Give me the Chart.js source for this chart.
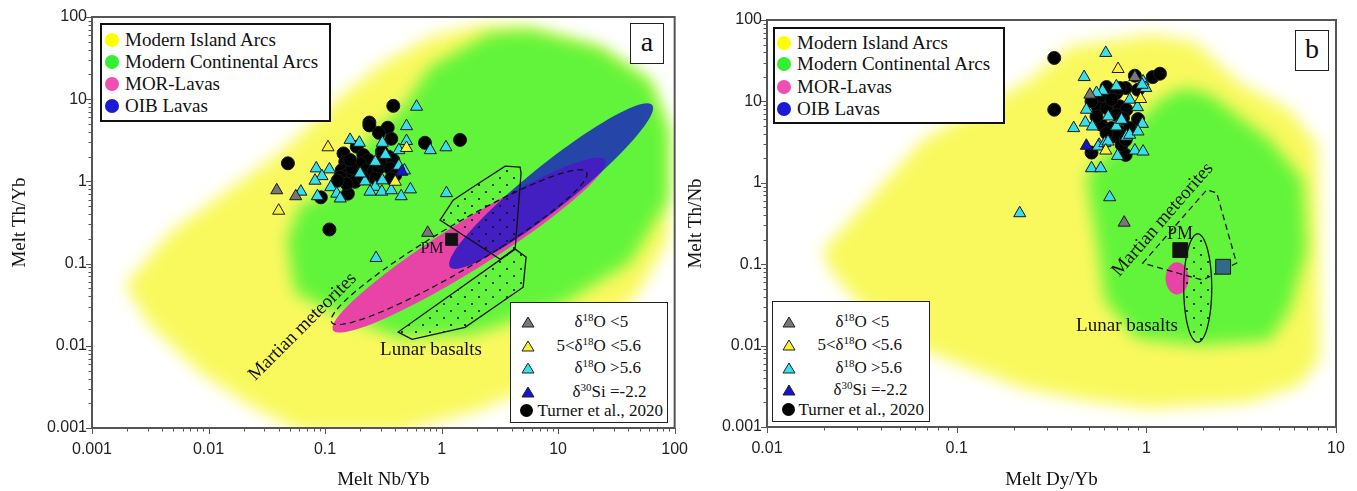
<!DOCTYPE html>
<html>
<head>
<meta charset="utf-8">
<script src="https://cdn.jsdelivr.net/npm/chart.js@4"></script>
<style>
  body { margin: 0; background: #fff; width: 1357px; height: 491px; position: relative; overflow: hidden; }
  canvas { position: absolute; top: 0; }
  .box { position: absolute; background: #fff; box-sizing: border-box; font-family: "Liberation Serif", "Times New Roman", serif; color: #111; }
  .lg1 { border: 2px solid #111; font-size: 19px; }
  .lg2 { border: 1.5px solid #222; font-size: 17px; }
  .it { position: absolute; white-space: nowrap; }
  .lg1 .it { height: 22px; line-height: 22px; }
  .lg2 .it { height: 20px; line-height: 20px; }
  .dot { position: absolute; border-radius: 50%; }
  .sp { font-size: 11px; position: relative; top: -6px; }
  .tag { border: 1.5px solid #222; font-size: 28px; text-align: center; line-height: 36px; }
  .ann { position: absolute; white-space: nowrap; font-family: "Liberation Serif", "Times New Roman", serif; font-size: 19px; color: #111; transform: translate(-50%, -50%); }
</style>
</head>
<body>
<canvas id="chartA" width="700" height="491" style="left:0"></canvas>
<canvas id="chartB" width="677" height="491" style="left:680px"></canvas>

<!-- panel a legends -->
<div class="box lg1" style="left:100px;top:23px;width:231px;height:99px">
  <div class="it" style="top:4px;left:0"><span class="dot" style="left:3px;top:4px;width:14px;height:14px;background:#ffff00"></span><span style="position:absolute;left:23px">Modern Island Arcs</span></div>
  <div class="it" style="top:26px;left:0"><span class="dot" style="left:3px;top:4px;width:14px;height:14px;background:#33ee33"></span><span style="position:absolute;left:23px">Modern Continental Arcs</span></div>
  <div class="it" style="top:48px;left:0"><span class="dot" style="left:3px;top:4px;width:14px;height:14px;background:#ee4fb0"></span><span style="position:absolute;left:23px">MOR-Lavas</span></div>
  <div class="it" style="top:70px;left:0"><span class="dot" style="left:3px;top:4px;width:14px;height:14px;background:#1a1ad6"></span><span style="position:absolute;left:23px">OIB Lavas</span></div>
</div>
<div class="box tag" style="left:630px;top:23px;width:34px;height:41px">a</div>
<div class="box lg2" style="left:510px;top:302px;width:158px;height:121px">
  <svg style="position:absolute;left:9.5px;top:12.5px" width="14" height="12"><polygon points="7,1 13,11 1,11" fill="#777" stroke="#222"/></svg>
  <div class="it" style="left:63.5px;top:8.5px">&delta;<span class="sp">18</span>O &lt;5</div>
  <svg style="position:absolute;left:9.5px;top:36.5px" width="14" height="12"><polygon points="7,1 13,11 1,11" fill="#fbf235" stroke="#222"/></svg>
  <div class="it" style="left:45.5px;top:32.5px">5&lt;&delta;<span class="sp">18</span>O &lt;5.6</div>
  <svg style="position:absolute;left:9.5px;top:58.5px" width="14" height="12"><polygon points="7,1 13,11 1,11" fill="#35e0ee" stroke="#222"/></svg>
  <div class="it" style="left:63.5px;top:54.5px">&delta;<span class="sp">18</span>O &gt;5.6</div>
  <svg style="position:absolute;left:9.5px;top:82.5px" width="14" height="12"><polygon points="7,1 13,11 1,11" fill="#1515d0" stroke="#222"/></svg>
  <div class="it" style="left:61.5px;top:78.5px">&delta;<span class="sp">30</span>Si =-2.2</div>
  <span class="dot" style="left:9px;top:101px;width:13px;height:13px;background:#000"></span>
  <div class="it" style="left:26.5px;top:97.5px">Turner et al., 2020</div>
</div>

<!-- panel b legends -->
<div class="box lg1" style="left:773px;top:27px;width:232px;height:97px">
  <div class="it" style="top:3px;left:0"><span class="dot" style="left:2px;top:4px;width:14px;height:14px;background:#ffff00"></span><span style="position:absolute;left:22px">Modern Island Arcs</span></div>
  <div class="it" style="top:24px;left:0"><span class="dot" style="left:2px;top:4px;width:14px;height:14px;background:#33ee33"></span><span style="position:absolute;left:22px">Modern Continental Arcs</span></div>
  <div class="it" style="top:47px;left:0"><span class="dot" style="left:2px;top:4px;width:14px;height:14px;background:#ee4fb0"></span><span style="position:absolute;left:22px">MOR-Lavas</span></div>
  <div class="it" style="top:69px;left:0"><span class="dot" style="left:2px;top:4px;width:14px;height:14px;background:#1a1ad6"></span><span style="position:absolute;left:22px">OIB Lavas</span></div>
</div>
<div class="box tag" style="left:1295px;top:30px;width:34px;height:41px">b</div>
<div class="box lg2" style="left:772px;top:301px;width:158px;height:121px">
  <svg style="position:absolute;left:8.5px;top:13.5px" width="14" height="12"><polygon points="7,1 13,11 1,11" fill="#777" stroke="#222"/></svg>
  <div class="it" style="left:62.5px;top:9.5px">&delta;<span class="sp">18</span>O &lt;5</div>
  <svg style="position:absolute;left:8.5px;top:36.5px" width="14" height="12"><polygon points="7,1 13,11 1,11" fill="#fbf235" stroke="#222"/></svg>
  <div class="it" style="left:44.5px;top:32.5px">5&lt;&delta;<span class="sp">18</span>O &lt;5.6</div>
  <svg style="position:absolute;left:8.5px;top:59.5px" width="14" height="12"><polygon points="7,1 13,11 1,11" fill="#35e0ee" stroke="#222"/></svg>
  <div class="it" style="left:62.5px;top:55.5px">&delta;<span class="sp">18</span>O &gt;5.6</div>
  <svg style="position:absolute;left:8.5px;top:81.5px" width="14" height="12"><polygon points="7,1 13,11 1,11" fill="#1515d0" stroke="#222"/></svg>
  <div class="it" style="left:60.5px;top:77.5px">&delta;<span class="sp">30</span>Si =-2.2</div>
  <span class="dot" style="left:9px;top:101px;width:13px;height:13px;background:#000"></span>
  <div class="it" style="left:25.5px;top:97.5px">Turner et al., 2020</div>
</div>

<!-- field labels -->
<div class="ann" style="left:432px;top:248px;font-size:16px">PM</div>
<div class="ann" style="left:431px;top:349px">Lunar basalts</div>
<div class="ann" style="left:302px;top:326px;transform:translate(-50%,-50%) rotate(-45deg)">Martian meteorites</div>
<div class="ann" style="left:1180px;top:233px;font-size:18px">PM</div>
<div class="ann" style="left:1127px;top:325px">Lunar basalts</div>
<div class="ann" style="left:1162px;top:219px;transform:translate(-50%,-50%) rotate(-49deg)">Martian meteorites</div>

<script>
// ---- axis ticks ----
const decadesA = [0.001, 0.01, 0.1, 1, 10, 100];
const decadeLabelsA = ['0.001', '0.01', '0.1', '1', '10', '100'];
const decadesBx = [0.01, 0.1, 1, 10];
const decadeLabelsBx = ['0.01', '0.1', '1', '10'];
const minorSteps = [2, 3, 4, 5, 6, 7, 8, 9];

// ---- panel a: Melt Nb/Yb vs Melt Th/Yb ----
const turnerA = [[0.385,8.3],[0.24,5.2],[0.24,4.8],[0.345,4.5],[0.29,3.9],[0.37,3.3],[0.72,2.95],[1.44,3.2],
  [0.048,1.66],[0.109,0.26],[0.092,0.64],[0.157,0.71],[0.144,2.19],[0.149,1.73],[0.139,1.37],[0.158,1.25],
  [0.135,1.14],[0.187,2.64],[0.213,2.09],[0.236,1.82],[0.2,1.65],[0.228,1.37],[0.26,1.31],[0.287,1.44],
  [0.307,2.3],[0.349,2.0],[0.385,1.82],[0.361,1.44],[0.4,1.19],[0.181,0.99],[0.153,0.94],[0.128,1.02],
  [0.269,1.09],[0.17,1.44],[0.296,1.73],[0.213,1.09],[0.164,1.82],[0.37,1.09]];
const lowO18A = [[0.0385,0.78],[0.056,0.66],[0.76,0.237]];
const midO18A = [[0.040,0.44],[0.106,2.6],[0.5,2.55],[0.4,0.99]];
const highO18A = [[0.61,8.1],[0.5,4.7],[0.5,3.1],[0.8,2.4],[1.09,2.6],[0.164,3.2],[0.197,2.95],[0.31,2.95],
  [0.33,2.1],[0.43,2.4],[0.27,1.73],[0.084,1.44],[0.109,1.4],[0.094,1.16],[0.082,1.02],[0.112,0.85],
  [0.062,0.75],[0.086,0.66],[0.126,0.71],[0.135,0.62],[0.22,1.0],[0.27,0.86],[0.243,0.75],[0.307,0.75],
  [0.31,1.03],[0.37,0.78],[0.45,0.66],[0.54,0.8],[0.48,1.36],[0.43,1.55],[0.2,1.25],[1.1,0.72],[0.274,0.117]];
const si30A = [[0.455,1.31]];
const pmA = [[1.22,0.197]];

// field outlines (vertices)
const islandArcsA = [[0.00192,0.0547],[0.00468,0.241],[0.0435,2.40],[0.117,8.97],[0.296,26.0],[0.796,57.1],
  [2.14,80],[5.75,73.5],[22.9,42],[61.7,16.2],[88,4.2],[88,0.193],[50.6,0.0475],[11.5,0.00477],[2.14,0.00164],
  [0.44,0.0009],[0.061,0.0009],[0.0227,0.00189],[0.00845,0.00477],[0.00315,0.0178]];
const contArcsA = [[0.0472,0.193],[0.061,0.514],[0.127,0.83],[0.23,3.18],[0.468,8.0],[0.796,24.6],[2.61,63.8],
  [5.75,69.5],[22.9,42],[61.7,16.2],[88,4.2],[88,0.592],[41.5,0.104],[10.4,0.0312],[1.76,0.0135],[0.44,0.0124],
  [0.11,0.0271],[0.0552,0.0449]];
const lunarUpperA = [[0.97,0.338],[1.256,0.592],[1.862,0.853],[3.51,1.535],[4.72,1.493],[4.81,1.262],[4.28,0.154],[3.18,0.113]];
const lunarLowerA = [[4.28,0.150],[5.31,0.120],[5.01,0.0516],[1.59,0.0168],[0.558,0.0120],[0.424,0.0147]];
// ellipses in log10 units: centre, two conjugate half-axes
const morA = { c: [0.236, -0.775], u: [1.167, 1.035], v: [0.109, -0.248] };
const oibA = { c: [0.940, -0.057], u: [0.867, 0.986], v: [0.118, -0.209] };
const marsA = { c: [0.150, -0.800], u: [1.094, 0.913], v: [0.096, -0.231] };

// ---- panel b: Melt Dy/Yb vs Melt Th/Nb ----
const turnerB = [[0.327,34.2],[0.327,7.9],[0.87,20.7],[1.08,19.9],[1.18,21.9],[0.514,2.35],[0.778,2.2],[0.904,6.06],
  [0.617,15.0],[0.695,12.7],[0.778,14.6],[0.588,10.5],[0.557,8.3],[0.617,8.3],[0.724,8.7],[0.785,7.9],[0.695,6.85],
  [0.753,6.24],[0.58,5.16],[0.655,4.7],[0.724,4.27],[0.817,4.7],[0.695,3.7],[0.741,2.93],[0.617,4.07],[0.546,6.53],
  [0.655,10.5],[0.904,13.9],[0.778,3.37],[0.724,14.6],[0.514,10.0]];
const lowO18B = [[0.87,19.9],[0.504,12.1],[0.764,0.324]];
const midO18B = [[0.71,25.0],[0.933,10.7],[0.611,2.49]];
const highO18B = [[0.611,39.4],[0.47,19.9],[0.961,17.6],[0.993,14.6],[0.897,8.5],[0.483,7.9],[0.477,5.5],[0.414,4.7],
  [0.52,4.92],[0.953,5.3],[0.87,2.49],[0.961,2.42],[0.705,2.14],[0.564,2.93],[0.514,1.51],[0.575,1.51],[0.641,0.665],
  [0.215,0.423],[0.588,13.5],[0.817,10.5],[0.785,3.7],[0.63,6.53],[0.557,2.79],[0.817,3.89],[0.604,3.07],[0.695,4.92],
  [0.904,4.27],[0.546,12.7],[0.95,16],[0.628,3.21],[0.695,15.3],[0.74,5.94]];
const si30B = [[0.483,2.85]];
const pmB = [[1.51,0.149]];
const oibB = [[2.54,0.093]];

const islandArcsB = [[0.0197,0.149],[0.0298,0.427],[0.0664,3.37],[0.243,18.5],[0.394,47.1],[1.08,66],[1.80,54.2],
  [3.10,17.0],[5.70,7.89],[8.0,2.92],[8.2,0.0066],[6.43,0.00326],[3.51,0.00201],[1.04,0.00169],[0.473,0.00213],
  [0.223,0.00299],[0.0664,0.00879],[0.0309,0.0314],[0.0215,0.0848]];
const contArcsB = [[0.485,1.25],[0.724,3.37],[1.18,10.5],[1.59,14.7],[2.16,12.1],[4.47,3.37],[6.67,1.09],[7.0,0.149],
  [5.70,0.0273],[4.47,0.0116],[1.91,0.0101],[0.889,0.0123],[0.604,0.0361],[0.548,0.198],[0.504,0.615]];
const marsB = [[0.957,0.103],[2.08,0.818],[2.35,0.752],[2.99,0.103],[1.98,0.0638]];
const morB = { c: [0.162, -1.174], u: [0.0606, 0], v: [0, 0.197] };
const lunarB = { c: [0.271, -1.293], u: [0.0738, 0], v: [0, 0.665] };

// ---- helpers ----
const toXY = pairs => pairs.map(([x, y]) => ({ x, y }));

function ellipseOutline(e, n = 90) {
  const pts = [];
  for (let i = 0; i < n; i++) {
    const t = i / n * 2 * Math.PI;
    pts.push({
      x: 10 ** (e.c[0] + e.u[0] * Math.cos(t) + e.v[0] * Math.sin(t)),
      y: 10 ** (e.c[1] + e.u[1] * Math.cos(t) + e.v[1] * Math.sin(t))
    });
  }
  return pts;
}

// dotted fill used for the lunar basalt fields
const tile = document.createElement('canvas');
tile.width = tile.height = 14;
const tctx = tile.getContext('2d');
tctx.fillStyle = '#111';
[[3, 3], [10, 10]].forEach(([x, y]) => { tctx.beginPath(); tctx.arc(x, y, 1.1, 0, 2 * Math.PI); tctx.fill(); });

function shapeSet(points, shape) {
  return { data: points, pointRadius: 0, showLine: false, shape };
}
function markerSet(pairs, style, color, radius) {
  return { data: toXY(pairs), pointStyle: style, pointRadius: radius, backgroundColor: color,
           borderColor: '#1a1a1a', borderWidth: 1 };
}

// draws field polygons / ellipses from the points the scales placed
const shapes = {
  id: 'shapes',
  beforeDatasetDraw(chart, args) {
    const ds = chart.data.datasets[args.index];
    if (!ds.shape) return;
    const s = ds.shape, ctx = chart.ctx, a = chart.chartArea;
    ctx.save();
    ctx.beginPath();
    ctx.rect(a.left, a.top, a.right - a.left, a.bottom - a.top);
    ctx.clip();
    ctx.beginPath();
    args.meta.data.forEach((p, i) => i ? ctx.lineTo(p.x, p.y) : ctx.moveTo(p.x, p.y));
    ctx.closePath();
    if (s.fill) {
      if (s.blur) ctx.filter = `blur(${s.blur}px)`;
      ctx.globalAlpha = s.alpha || 1;
      ctx.fillStyle = s.fill === 'dots' ? ctx.createPattern(tile, 'repeat') : s.fill;
      ctx.fill();
      ctx.filter = 'none';
      ctx.globalAlpha = 1;
    }
    if (s.stroke) {
      ctx.setLineDash(s.dash || []);
      ctx.lineWidth = 1.3;
      ctx.strokeStyle = s.stroke;
      ctx.stroke();
    }
    ctx.restore();
    return false;
  }
};

// frame and outward tick marks
const frame = {
  id: 'frame',
  afterDatasetsDraw(chart) {
    const { ctx, chartArea: a, scales: { x, y } } = chart;
    ctx.save();
    ctx.strokeStyle = '#555';
    ctx.lineWidth = 1;
    ctx.beginPath();
    x.ticks.forEach(t => {
      const px = Math.round(x.getPixelForValue(t.value)) + 0.5;
      ctx.moveTo(px, a.bottom); ctx.lineTo(px, a.bottom + (t.major ? 6 : 3.5));
    });
    y.ticks.forEach(t => {
      const py = Math.round(y.getPixelForValue(t.value)) + 0.5;
      ctx.moveTo(a.left, py); ctx.lineTo(a.left - (t.major ? 6 : 3.5), py);
    });
    ctx.stroke();
    ctx.lineWidth = 2;
    ctx.strokeRect(a.left, a.top, a.right - a.left, a.bottom - a.top);
    ctx.restore();
  }
};

function logAxis(decades, labels, title, opts) {
  const values = [];
  decades.forEach((d, i) => {
    values.push({ value: d, major: true });
    if (i < decades.length - 1) minorSteps.forEach(m => values.push({ value: d * m, major: false }));
  });
  return {
    type: 'logarithmic',
    min: decades[0],
    max: decades[decades.length - 1],
    afterBuildTicks: scale => { scale.ticks = values.map(v => ({ ...v })); },
    afterFit: opts.fit,
    grid: { display: false, drawTicks: false },
    border: { display: false },
    ticks: {
      autoSkip: false, maxRotation: 0, padding: opts.padding,
      color: '#222', font: { family: '"Liberation Sans", Arial, sans-serif', size: 16 },
      callback: v => { const i = decades.indexOf(v); return i >= 0 ? labels[i] : ''; }
    },
    title: {
      display: true, text: title, color: '#111',
      font: { family: '"Liberation Serif", "Times New Roman", serif', size: 19 },
      padding: opts.titlePad
    }
  };
}

function makeChart(id, datasets, scales, padding) {
  datasets.forEach((d, i) => { d.order = -i; });
  return new Chart(document.getElementById(id), {
    type: 'scatter',
    data: { datasets },
    options: {
      responsive: false,
      animation: false,
      events: [],
      layout: { padding },
      plugins: { legend: { display: false }, tooltip: { enabled: false } },
      scales
    },
    plugins: [shapes, frame]
  });
}

const yellowFill = '#f9f95e', greenFill = '#62f43a', pinkFill = '#e844a8', blueFill = '#1414c8';

makeChart('chartA', [
  shapeSet(toXY(islandArcsA), { fill: yellowFill, blur: 8 }),
  shapeSet(toXY(contArcsA), { fill: greenFill, blur: 8 }),
  shapeSet(ellipseOutline(morA), { fill: pinkFill }),
  shapeSet(ellipseOutline(oibA), { fill: blueFill, alpha: 0.78 }),
  shapeSet(toXY(lunarUpperA), { fill: 'dots', stroke: '#111' }),
  shapeSet(toXY(lunarLowerA), { fill: 'dots', stroke: '#111' }),
  shapeSet(ellipseOutline(marsA), { stroke: '#111', dash: [6, 4] }),
  markerSet(turnerA, 'circle', '#000', 6.5),
  markerSet(highO18A, 'triangle', '#35e0ee', 7),
  markerSet(midO18A, 'triangle', '#fbf235', 7),
  markerSet(lowO18A, 'triangle', '#777', 7),
  markerSet(si30A, 'triangle', '#1515d0', 7),
  markerSet(pmA, 'rect', '#111', 8.5)
], {
  x: logAxis(decadesA, decadeLabelsA, 'Melt Nb/Yb', { padding: 12, titlePad: { top: 0, bottom: 0 }, fit: s => { s.height = 63; } }),
  y: logAxis(decadesA, decadeLabelsA, 'Melt Th/Yb', { padding: 5, titlePad: { top: 9, bottom: 0 }, fit: s => { s.width = 92; } })
}, { top: 17, right: 25, left: 0, bottom: 0 });

makeChart('chartB', [
  shapeSet(toXY(islandArcsB), { fill: yellowFill, blur: 8 }),
  shapeSet(toXY(contArcsB), { fill: greenFill, blur: 8 }),
  shapeSet(ellipseOutline(morB), { fill: pinkFill }),
  shapeSet(toXY(marsB), { stroke: '#111', dash: [6, 4] }),
  shapeSet(ellipseOutline(lunarB), { fill: 'dots', stroke: '#111' }),
  markerSet(turnerB, 'circle', '#000', 6.5),
  markerSet(highO18B, 'triangle', '#35e0ee', 7),
  markerSet(midO18B, 'triangle', '#fbf235', 7),
  markerSet(lowO18B, 'triangle', '#777', 7),
  markerSet(si30B, 'triangle', '#1515d0', 7),
  markerSet(pmB, 'rect', '#111', 10.5),
  markerSet(oibB, 'rect', '#2f6a88', 10.5)
], {
  x: logAxis(decadesBx, decadeLabelsBx, 'Melt Dy/Yb', { padding: 12, titlePad: { top: 0, bottom: 0 }, fit: s => { s.height = 64; } }),
  y: logAxis(decadesA, decadeLabelsA, 'Melt Th/Nb', { padding: 5, titlePad: { top: 5, bottom: 0 }, fit: s => { s.width = 87; } })
}, { top: 20, right: 21, left: 0, bottom: 0 });
</script>
</body>
</html>
